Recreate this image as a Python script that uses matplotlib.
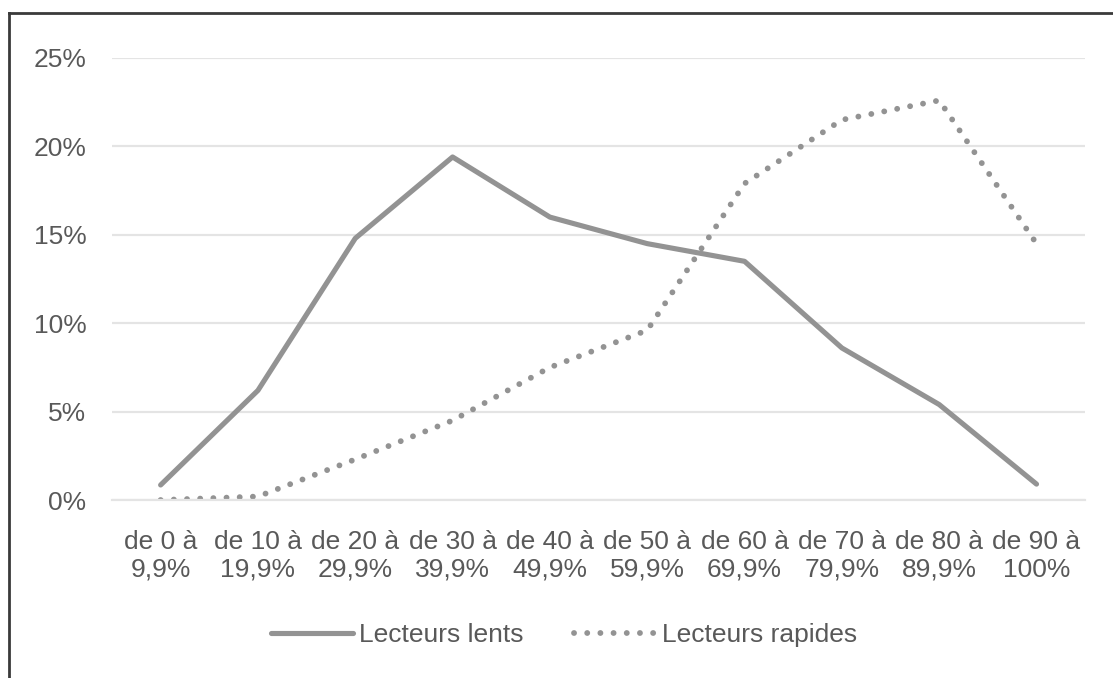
import matplotlib.pyplot as plt
from matplotlib.lines import Line2D
from matplotlib.ticker import PercentFormatter

plt.rcParams['font.family'] = ['Liberation Sans', 'DejaVu Sans']

categories = ['de 0 à\n9,9%', 'de 10 à\n19,9%', 'de 20 à\n29,9%', 'de 30 à\n39,9%',
              'de 40 à\n49,9%', 'de 50 à\n59,9%', 'de 60 à\n69,9%', 'de 70 à\n79,9%',
              'de 80 à\n89,9%', 'de 90 à\n100%']
lents = [0.85, 6.2, 14.8, 19.4, 16.0, 14.5, 13.5, 8.6, 5.4, 0.9]
rapides = [0.0, 0.2, 2.3, 4.5, 7.5, 9.6, 17.9, 21.5, 22.6, 14.5]
y_ticks = [0, 5, 10, 15, 20, 25]

gray = '#939393'
txt = '#595959'

fig = plt.figure(figsize=(11.13, 6.78), dpi=100)
ax = fig.add_axes([0.1006, 0.2625, 0.8744, 0.652])

x = range(len(categories))
ax.plot(x, lents, color=gray, lw=3.7, solid_capstyle='round', solid_joinstyle='round',
        label='Lecteurs lents')
ax.plot(x, rapides, color=gray, lw=4.2, linestyle=(0, (0.01, 2.25)),
        dash_capstyle='round', label='Lecteurs rapides')

ax.set_xlim(-0.5, len(categories) - 0.5)
ax.set_ylim(0, 25)
ax.set_yticks(y_ticks)
ax.yaxis.set_major_formatter(PercentFormatter(decimals=0))
ax.set_xticks(list(x))
ax.set_xticklabels(categories, linespacing=1.2)
ax.grid(axis='y', color='#e4e4e4', lw=1.6)
ax.set_axisbelow(True)
for s in ['top', 'right', 'left']:
    ax.spines[s].set_visible(False)
ax.spines['bottom'].set_color('#e4e4e4')
ax.spines['bottom'].set_linewidth(1.6)
ax.tick_params(axis='both', length=0, labelsize=19, colors=txt)
ax.tick_params(axis='y', pad=18.5)
ax.tick_params(axis='x', pad=21.5)

fig.legend(loc='center', bbox_to_anchor=(0.507, 0.063), ncol=2, frameon=False,
           fontsize=19, labelcolor=txt, handlelength=3.1, handletextpad=0.25,
           columnspacing=1.9)

# border of the original frame (top and left visible)
fig.add_artist(Line2D([9 / 1113, 1], [1 - 13 / 678] * 2, color='#3a3a3a', lw=2,
                      transform=fig.transFigure))
fig.add_artist(Line2D([9 / 1113] * 2, [0, 1 - 13 / 678], color='#3a3a3a', lw=2,
                      transform=fig.transFigure))

fig.savefig('out.png', dpi=100)
